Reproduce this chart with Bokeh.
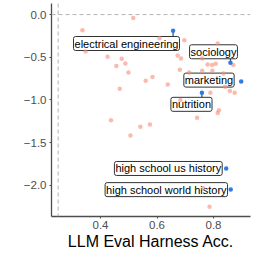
from bokeh.plotting import figure
from bokeh.models import Span, Label, Range1d, FixedTicker, ColumnDataSource
from bokeh.embed import file_html
from bokeh.resources import INLINE

# background tasks (pink)
bg_x = [0.516, 0.336, 0.347, 0.425, 0.456, 0.475, 0.488, 0.499, 0.468, 0.560,
        0.584, 0.638, 0.609, 0.697, 0.673, 0.685, 0.681, 0.714, 0.760, 0.779,
        0.760, 0.795, 0.808, 0.796, 0.815, 0.835, 0.870, 0.841, 0.858, 0.875,
        0.789, 0.683, 0.742, 0.819, 0.815, 0.437, 0.541, 0.575, 0.506, 0.786,
        0.764]
bg_y = [-0.041, -0.184, -0.433, -0.495, -0.604, -0.518, -0.573, -0.679, -0.870, -0.776,
        -0.733, -0.819, -0.276, -0.301, -0.479, -0.515, -0.647, -0.679, -0.515, -0.585,
        -0.659, -0.592, -0.577, -0.659, -0.339, -0.690, -0.592, -0.846, -0.896, -0.917,
        -0.917, -1.002, -1.210, -1.120, -1.155, -1.239, -1.315, -1.288, -1.417, -2.253,
        -2.036]

# highlighted tasks (blue)
hl_names = ["electrical engineering", "sociology", "marketing", "nutrition",
            "high school us history", "high school world history"]
hl_x = [0.657, 0.860, 0.898, 0.759, 0.845, 0.861]
hl_y = [-0.190, -0.565, -0.784, -0.917, -1.804, -2.050]

# label placements (repelled positions)
lab_x = [0.492, 0.800, 0.784, 0.722, 0.640, 0.633]
lab_y = [-0.339, -0.436, -0.768, -1.052, -1.804, -2.052]
# connector drawn only where the label sits away from its point
has_connector = [True, True, False, True, False, False]

x_ticks = [0.4, 0.6, 0.8]
x_tick_labels = ["0.4", "0.6", "0.8"]
y_ticks = [0.0, -0.5, -1.0, -1.5, -2.0]
y_tick_labels = ["0.0", "\u22120.5", "\u22121.0", "\u22121.5", "\u22122.0"]

x_label = "LLM Eval Harness Acc."
chance = 0.25

FONT = "Liberation Sans"
W, H = 253, 253
BL, BR, BT, BB = 51, 3, 3, 37
X0, X1 = 0.2265, 0.931
Y0, Y1 = -2.367, 0.130

p = figure(width=W, height=H, output_backend="svg", toolbar_location=None,
           x_range=Range1d(X0, X1), y_range=Range1d(Y0, Y1),
           min_border_left=BL, min_border_right=BR, min_border_top=BT,
           min_border_bottom=BB)
p.outline_line_color = None
p.grid.visible = False
p.background_fill_color = "white"

for ax in (p.xaxis[0], p.yaxis[0]):
    ax.axis_line_color = "#4d4d4d"
    ax.axis_line_width = 1.3
    ax.major_tick_line_color = "#4d4d4d"
    ax.major_tick_out = 2
    ax.major_tick_in = 0
    ax.minor_tick_line_color = None
    ax.major_label_text_font = FONT
    ax.major_label_text_font_size = "11.5px"
    ax.major_label_text_color = "#4d4d4d"
    ax.major_label_standoff = 2

p.xaxis.ticker = FixedTicker(ticks=x_ticks)
p.xaxis.major_label_overrides = dict(zip(x_ticks, x_tick_labels))
p.yaxis.ticker = FixedTicker(ticks=y_ticks)
p.yaxis.major_label_overrides = dict(zip(y_ticks, y_tick_labels))
p.yaxis.major_label_standoff = 3

p.xaxis.axis_label = x_label
p.xaxis.axis_label_text_font = FONT
p.xaxis.axis_label_text_font_style = "normal"
p.xaxis.axis_label_text_font_size = "16px"
p.xaxis.axis_label_text_color = "black"
p.xaxis.axis_label_standoff = 1

p.add_layout(Span(location=0.0, dimension="width", line_color="#b3b3b3",
                  line_dash="4 3", line_width=1))
p.add_layout(Span(location=chance, dimension="height", line_color="#b3b3b3",
                  line_dash="4 3", line_width=1))

# connector segments: from point to nearest edge of the (estimated) label box
sx = (W - BL - BR) / (X1 - X0)   # px per x unit
sy = (H - BT - BB) / (Y1 - Y0)   # px per y unit
x0s, y0s, x1s, y1s = [], [], [], []
for name, px, py, lx, ly, c in zip(hl_names, hl_x, hl_y, lab_x, lab_y, has_connector):
    if not c:
        continue
    hw = (len(name) * 4.75 + 4) / 2 / sx
    hh = 6.3 / sy
    ex = min(max(px, lx - hw), lx + hw)
    ey = min(max(py, ly - hh), ly + hh)
    x0s.append(px); y0s.append(py); x1s.append(ex); y1s.append(ey)
seg = ColumnDataSource(dict(x0=x0s, y0=y0s, x1=x1s, y1=y1s))
p.segment("x0", "y0", "x1", "y1", source=seg, line_color="#222222",
          line_width=1, level="underlay")

for name, lx, ly in zip(hl_names, lab_x, lab_y):
    p.add_layout(Label(x=lx, y=ly, text=name, text_align="center",
                       text_baseline="middle", text_font=FONT,
                       text_font_size="11px", text_color="black",
                       background_fill_color="white", background_fill_alpha=1.0,
                       border_line_color="#333333", border_line_width=1,
                       border_radius=2, padding=1, level="underlay"))

p.scatter(bg_x, bg_y, size=4.5, fill_color="#F58E78", fill_alpha=0.6,
          line_color=None)
p.scatter(hl_x, hl_y, size=4.5, fill_color="#2F7BE8", line_color=None)

open("out.html", "w").write(file_html(p, INLINE))
